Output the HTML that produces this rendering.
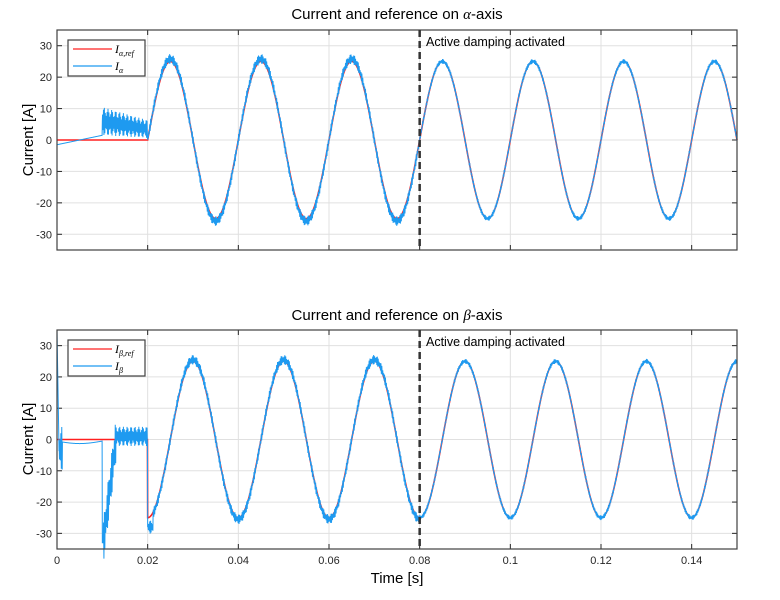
<!DOCTYPE html>
<html><head><meta charset="utf-8"><style>
body{margin:0;background:#fff;}
svg{display:block;font-family:"Liberation Sans",sans-serif;}
</style></head><body>
<svg id="s" width="780" height="600" xmlns="http://www.w3.org/2000/svg">
<rect width="780" height="600" fill="#fff"/>
<g id="g1"></g><g id="g2"></g>
<text x="397" y="19" font-size="15" text-anchor="middle" fill="#000">Current and reference on <tspan font-family="Liberation Serif" font-style="italic">α</tspan>-axis</text>
<text x="397" y="320" font-size="15" text-anchor="middle" fill="#000">Current and reference on <tspan font-family="Liberation Serif" font-style="italic">β</tspan>-axis</text>
<text x="397" y="583" font-size="15" text-anchor="middle">Time [s]</text>
<text transform="translate(33,140) rotate(-90)" font-size="15" text-anchor="middle">Current [A]</text>
<text transform="translate(33,439) rotate(-90)" font-size="15" text-anchor="middle">Current [A]</text>
</svg>
<script>
const NS="http://www.w3.org/2000/svg";
const X0=57,X1=737;
function sx(t){return X0+(t/0.15)*(X1-X0);}
function el(p,tag,a,txt){const e=document.createElementNS(NS,tag);for(const k in a)e.setAttribute(k,a[k]);if(txt!==undefined)e.textContent=txt;p.appendChild(e);return e;}
function axes(g,top,bot,ticklabelsX){
  const sy=v=>top+(35-v)/70*(bot-top);
  for(let i=1;i<=7;i++){el(g,'line',{x1:sx(i*0.02),x2:sx(i*0.02),y1:top,y2:bot,stroke:'#e0e0e0','stroke-width':1});}
  for(let v=-30;v<=30;v+=10){el(g,'line',{x1:X0,x2:X1,y1:sy(v),y2:sy(v),stroke:'#e0e0e0','stroke-width':1});
    el(g,'text',{x:X0-5,y:sy(v)+4,'font-size':11,'text-anchor':'end',fill:'#262626'},String(v));
    el(g,'line',{x1:X0,x2:X0+5,y1:sy(v),y2:sy(v),stroke:'#262626'});el(g,'line',{x1:X1,x2:X1-5,y1:sy(v),y2:sy(v),stroke:'#262626'});}
  for(let i=0;i<=7;i++){const x=sx(i*0.02);el(g,'line',{x1:x,x2:x,y1:bot,y2:bot-5,stroke:'#262626'});el(g,'line',{x1:x,x2:x,y1:top,y2:top+5,stroke:'#262626'});
    if(ticklabelsX)el(g,'text',{x:x,y:bot+15,'font-size':11,'text-anchor':'middle',fill:'#262626'},i==0?'0':String(+(i*0.02).toFixed(2)));}
  return sy;
}
function draw(g,sy,ref,act){
  let r='',a='';
  for(let i=0;i<=3000;i++){const t=i*0.00005;const x=sx(t).toFixed(2);
    r+=(i?'L':'M')+x+','+sy(ref(t)).toFixed(2);
    a+=(i?'L':'M')+x+','+sy(act(t,i)).toFixed(2);}
  el(g,'path',{d:r,fill:'none',stroke:'#ff2020','stroke-width':1.6});
  el(g,'path',{d:a,fill:'none',stroke:'#1e9af0','stroke-width':1});
}
const w=2*Math.PI*50;
function osc(i){return [0,1,0,-1][i%4]*(1+0.4*Math.sin(i*0.37));}
function rip(t,i){if(t<0.02)return 0;return osc(i)*(t<0.08?1.1:0.55);}
const g1=document.getElementById('g1');
const sy1=axes(g1,30,250,false);
draw(g1,sy1,t=>t<0.02?0:25*Math.sin(w*(t-0.02)),(t,i)=>{
  if(t<0.01)return -1.5+3*t/0.01;
  if(t<0.02){return 6-2.5*(t-0.01)/0.01+osc(i)*(3.2-1.2*(t-0.01)/0.01);}
  const amp=t<0.08?25.8:25;return amp*Math.sin(w*(t-0.02))+rip(t,i);});
const g2=document.getElementById('g2');
const sy2=axes(g2,330,549,true);
draw(g2,sy2,t=>t<0.02?0:-25*Math.cos(w*(t-0.02)),(t,i)=>{
  if(t<0.0005)return 35-43*t/0.0005;
  if(t<0.0012)return -3+osc(i)*5;
  if(t<0.01)return -0.5-0.8*Math.sin(Math.PI*t/0.01);
  if(t<0.0102)return -33;
  if(t<0.013)return -33+33*(t-0.0102)/0.0028+osc(i)*5;
  if(t<0.02)return 1+osc(i)*2.2;
  if(t<0.0212)return -28+osc(i)*1.5;
  const amp=t<0.08?25.5:25;return -amp*Math.cos(w*(t-0.02))+rip(t,i);});
const svg=document.getElementById('s');
[[30,250],[330,549]].forEach(([t,b],k)=>{
  el(svg,'rect',{x:X0,y:t,width:X1-X0,height:b-t,fill:'none',stroke:'#404040','stroke-width':1.2});
  el(svg,'line',{x1:sx(0.08),x2:sx(0.08),y1:t,y2:b,stroke:'#333','stroke-width':2.5,'stroke-dasharray':'7,4'});
  el(svg,'text',{x:426,y:t+16,'font-size':12.5,fill:'#000'},'Active damping activated');
  const ly=t+10;
  el(svg,'rect',{x:68,y:ly,width:77,height:36,fill:'#fff',stroke:'#404040','stroke-width':1.2});
  el(svg,'line',{x1:73,x2:112,y1:ly+9,y2:ly+9,stroke:'#ff2020','stroke-width':1.3});
  el(svg,'line',{x1:73,x2:112,y1:ly+26,y2:ly+26,stroke:'#1e9af0','stroke-width':1.3});
  const sym=k?'β':'α';
  const t1=el(svg,'text',{x:115,y:ly+13,'font-size':12,'font-family':'Liberation Serif','font-style':'italic'},'I');
  el(t1,'tspan',{'font-size':8,dy:3},sym+',ref');
  const t2=el(svg,'text',{x:115,y:ly+30,'font-size':12,'font-family':'Liberation Serif','font-style':'italic'},'I');
  el(t2,'tspan',{'font-size':8,dy:3},sym);
});
</script>
</body></html>
